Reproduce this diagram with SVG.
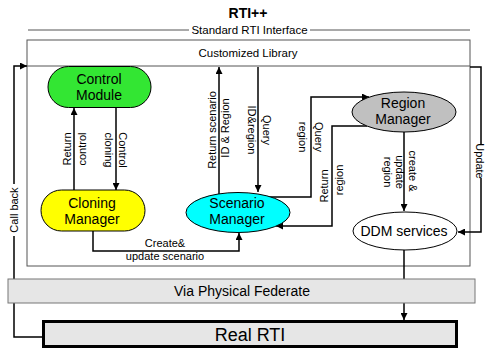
<svg xmlns="http://www.w3.org/2000/svg" width="485" height="351" viewBox="0 0 485 351">
<defs>
<marker id="ah" viewBox="0 0 10 10" refX="10" refY="5" markerWidth="7" markerHeight="7" markerUnits="userSpaceOnUse" orient="auto">
<path d="M0,0 L10,5 L0,10 z" fill="#000"/>
</marker>
<style>
text{font-family:"Liberation Sans",Arial,sans-serif;fill:#000}
.node{font-size:14px;text-anchor:middle}
.lbl{font-size:11px;text-anchor:middle}
.conn{fill:none;stroke:#000;stroke-width:1.5;marker-end:url(#ah)}
.plain{fill:none;stroke:#000;stroke-width:1.5}
.frame{fill:#fff;stroke:#555;stroke-width:1}
</style>
</defs>
<rect width="485" height="351" fill="#fff"/>
<g id="title">
<text x="248" y="18" font-size="14" font-weight="bold" text-anchor="middle">RTI++</text>
</g>
<g id="standard-interface">
<line x1="28" y1="30" x2="470" y2="30" stroke="#555" stroke-width="1"/>
<rect x="189" y="23" width="121" height="14" fill="#fff"/>
<text x="249.5" y="34" font-size="11.5" text-anchor="middle">Standard RTI Interface</text>
</g>
<g id="frame">
<rect class="frame" x="27" y="40" width="443" height="226"/>
<line x1="27" y1="66" x2="470" y2="66" stroke="#555" stroke-width="1"/>
<text x="248" y="57" font-size="11.5" text-anchor="middle">Customized Library</text>
</g>
<g id="connectors">
<polyline class="conn" points="74,190 74,108"/>
<polyline class="conn" points="116,108 116,190"/>
<polyline class="conn" points="93,231 93,251 239,251 239,233"/>
<polyline class="conn" points="219,200 219,67"/>
<polyline class="conn" points="258,67 258,192"/>
<polyline class="conn" points="262,197 311,197 311,97 369,97"/>
<polyline class="conn" points="367,126 332,126 332,226 276,226"/>
<polyline class="conn" points="404,132 404,211"/>
<polyline class="conn" points="470,67 481,67 481,232 458,232"/>
<polyline class="conn" points="43,337 14,337 14,66 27,66"/>
<polyline class="conn" points="404,250 404,320"/>
<text class="lbl" transform="translate(71,149) rotate(-90)">Return</text>
<text class="lbl" transform="translate(86,149) rotate(-90)">control</text>
<text class="lbl" transform="translate(119,150) rotate(90)">Control</text>
<text class="lbl" transform="translate(105,150) rotate(90)">cloning</text>
<text class="lbl" x="165" y="247">Create&amp;</text>
<text class="lbl" x="165" y="260">update scenario</text>
<text class="lbl" transform="translate(216,130) rotate(-90)">Return scenario</text>
<text class="lbl" transform="translate(229,128) rotate(-90)">ID &amp; Region</text>
<text class="lbl" transform="translate(263,130) rotate(90)">Query</text>
<text class="lbl" transform="translate(248,130) rotate(90)">ID&amp;region</text>
<text class="lbl" transform="translate(315,137) rotate(90)">Query</text>
<text class="lbl" transform="translate(299,137) rotate(90)">region</text>
<text class="lbl" transform="translate(328,186) rotate(-90)">Return</text>
<text class="lbl" transform="translate(343,180) rotate(-90)">region</text>
<text class="lbl" transform="translate(409,171) rotate(90)">create &amp;</text>
<text class="lbl" transform="translate(396,172) rotate(90)">update</text>
<text class="lbl" transform="translate(384,172) rotate(90)">region</text>
<rect x="474" y="144" width="11" height="34" fill="#fff"/>
<text class="lbl" transform="translate(475.5,161) rotate(90)" font-size="10.5">Update</text>
<rect x="7" y="184" width="14" height="52" fill="#fff"/>
<text class="lbl" transform="translate(18,210) rotate(-90)">Call back</text>
</g>
<g id="control-module">
<rect x="48" y="66.5" width="103" height="41" rx="20.5" fill="#33E633" stroke="#000" stroke-width="1"/>
<text class="node" x="99" y="84">Control</text>
<text class="node" x="99" y="100">Module</text>
</g>
<g id="cloning-manager">
<rect x="41" y="190" width="104" height="41" rx="20.5" fill="#FFFF00" stroke="#000" stroke-width="1"/>
<text class="node" x="92" y="208">Cloning</text>
<text class="node" x="92" y="224">Manager</text>
</g>
<g id="scenario-manager">
<ellipse cx="238" cy="212.5" rx="52" ry="20" fill="#00FFFF" stroke="#000" stroke-width="1"/>
<text class="node" x="237" y="208">Scenario</text>
<text class="node" x="237" y="224">Manager</text>
</g>
<g id="region-manager">
<ellipse cx="404" cy="112" rx="52" ry="20" fill="#C0C0C0" stroke="#000" stroke-width="1"/>
<text class="node" x="403" y="108">Region</text>
<text class="node" x="403" y="124">Manager</text>
</g>
<g id="ddm-services">
<ellipse cx="405" cy="231" rx="52" ry="19" fill="#fff" stroke="#000" stroke-width="1"/>
<text class="node" x="404" y="236">DDM services</text>
</g>
<g id="via-physical-federate">
<rect x="8" y="279" width="467" height="24" fill="#E6E6E6" stroke="#777" stroke-width="1"/>
<text x="242" y="296" font-size="14" text-anchor="middle">Via Physical Federate</text>
</g>
<g id="real-rti">
<rect x="43.5" y="321.5" width="413" height="25" fill="#E6E6E6" stroke="#000" stroke-width="3"/>
<text x="250" y="341" font-size="18" text-anchor="middle">Real RTI</text>
</g>
</svg>
